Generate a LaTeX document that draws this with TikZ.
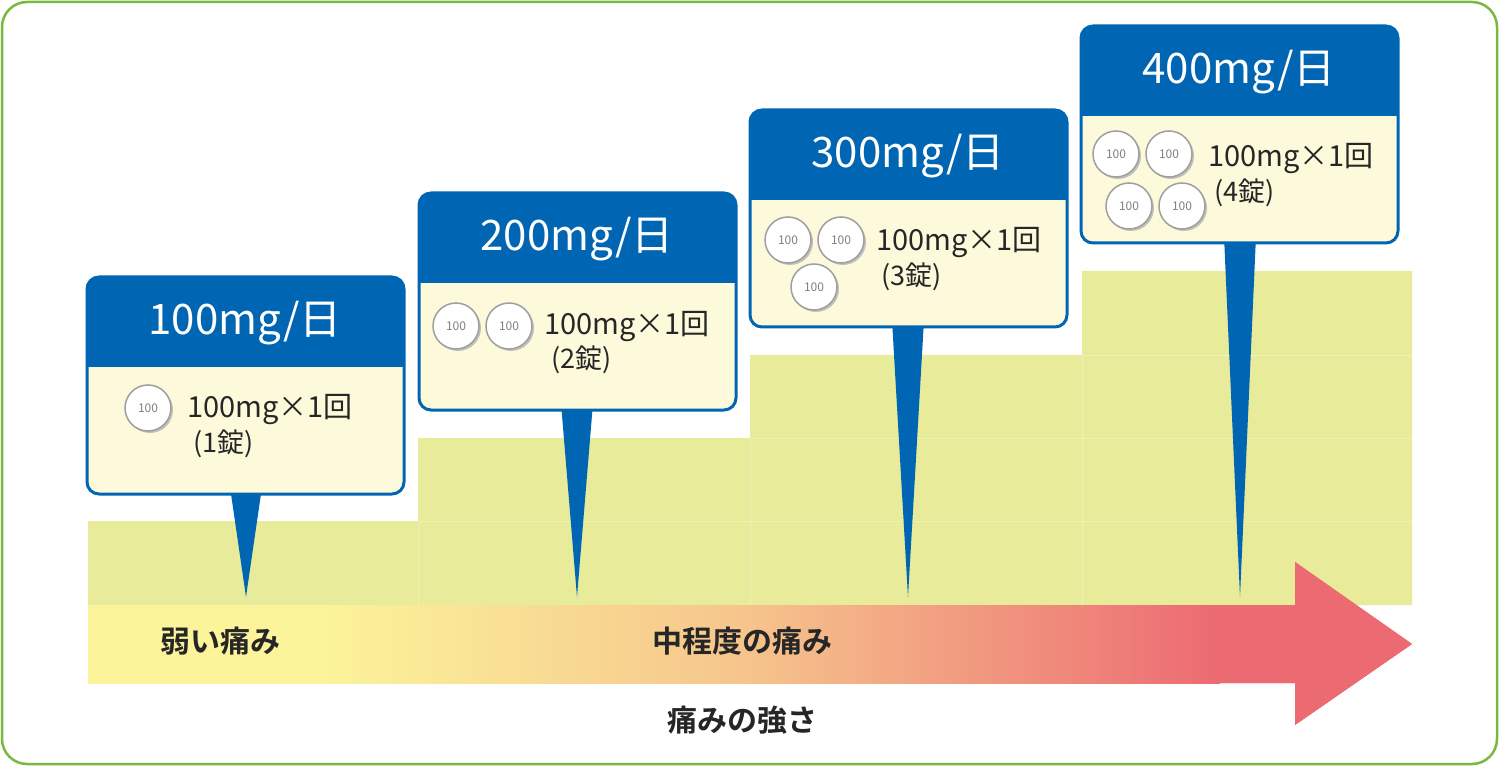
\documentclass[tikz,border=0pt]{standalone}
\usepackage{fontspec}
\setmainfont{Noto Sans CJK JP}
\newfontfamily\jpb{Noto Sans CJK JP Bold}
\definecolor{frame}{HTML}{7AB940}
\definecolor{stepg}{HTML}{E8EB9A}
\definecolor{gridl}{HTML}{EEF0B4}
\definecolor{hblue}{HTML}{0066B3}
\definecolor{bodyc}{HTML}{FDFADC}
\definecolor{ay}{HTML}{FBF49A}
\definecolor{ao}{HTML}{F6C58C}
\definecolor{ar}{HTML}{EC6A72}
\tikzset{
 pill/.style={circle,draw=gray!75,line width=1.5pt,fill=white,minimum size=46pt,inner sep=0pt,font=\fontsize{12}{12}\selectfont\color{gray},drop shadow={shadow xshift=2pt,shadow yshift=-2pt,fill=gray!60,opacity=0.8}},
 dose/.style={font=\fontsize{29}{30}\selectfont,text=black!85,anchor=west,inner sep=0pt},
 cnt/.style={font=\fontsize{27}{30}\selectfont,text=black!85,anchor=west,inner sep=0pt},
 head/.style={font=\fontsize{42}{42}\selectfont,text=white},
 lab/.style={font=\jpb\fontsize{30}{30}\selectfont,text=black!85}
}
\usetikzlibrary{shadows}
\begin{document}
\begin{tikzpicture}[x=1pt,y=-1pt]
\useasboundingbox (0,0) rectangle (1500,767);
\draw[frame,line width=2.5pt,rounded corners=25pt,fill=white] (2,2) rectangle (1497,764);
% steps
\fill[stepg] (88,605) -- (88,521) -- (418,521) -- (418,438) -- (750,438) -- (750,355) -- (1082,355) -- (1082,271) -- (1412,271) -- (1412,605) -- cycle;
\draw[gridl,line width=0.8pt] (418,521) -- (1412,521) (750,438) -- (1412,438) (1082,355) -- (1412,355) (418,521) -- (418,605) (750,438) -- (750,605) (1082,355) -- (1082,605);
% arrow
\shade[left color=ay,middle color=ao,right color=ar,shading angle=90] (88,605) -- (1295,605) -- (1295,562) -- (1412,644) -- (1295,725) -- (1295,683) -- (88,683) -- cycle;
\shade[left color=ay,right color=ay,middle color=ay] (88,605) rectangle (320,683);
\shade[left color=ay,right color=ao] (320,605) rectangle (742,683);
\shade[left color=ao,right color=ar] (742,605) rectangle (1220,683);
\fill[ar] (1220,605) -- (1295,605) -- (1295,562) -- (1412,644) -- (1295,725) -- (1295,683) -- (1220,683) -- cycle;
\node[lab] (l1) at (220,641) {弱い痛み};
\node[lab] (l2) at (742,641) {中程度の痛み};
\node[lab] (l3) at (742,720) {痛みの強さ};
% callouts
\foreach \x/\y/\tip/\n [count=\i] in {87/277/246/1,419/193/577/2,750/110/908/3,1081/26/1240/4}{
  \fill[hblue] (\tip-16,\y+210) -- (\tip+16,\y+210) -- (\tip,597) -- cycle;
  \draw[hblue,line width=3pt,fill=bodyc,rounded corners=12pt] (\x,\y) rectangle (\x+317,\y+217);
  \fill[hblue,rounded corners=12pt] (\x,\y) -- (\x,\y+90) -- (\x+317,\y+90) -- (\x+317,\y) -- cycle;
  \fill[hblue] (\x,\y+60) rectangle (\x+317,\y+90);
  \node[head] (h\i) at (\x+158,\y+46) {\n 00mg/日};
}
\node[pill] (p11) at (148,408) {100};
\node[dose] (d1) at (187,410) {100mg×1回};
\node[cnt] (c1) at (193,444) {(1錠)};
\node[pill] (p21) at (456,326) {100};
\node[pill] (p22) at (509,326) {100};
\node[dose] (d2) at (544,327) {100mg×1回};
\node[cnt] (c2) at (551,360) {(2錠)};
\node[pill] (p31) at (788,240) {100};
\node[pill] (p32) at (841,240) {100};
\node[pill] (p33) at (814,287) {100};
\node[dose] (d3) at (876,243) {100mg×1回};
\node[cnt] (c3) at (881,277) {(3錠)};
\node[pill] (p41) at (1116,154) {100};
\node[pill] (p42) at (1169,154) {100};
\node[pill] (p43) at (1129,206) {100};
\node[pill] (p44) at (1182,206) {100};
\node[dose] (d4) at (1208,159) {100mg×1回};
\node[cnt] (c4) at (1214,193) {(4錠)};
\end{tikzpicture}
\end{document}
